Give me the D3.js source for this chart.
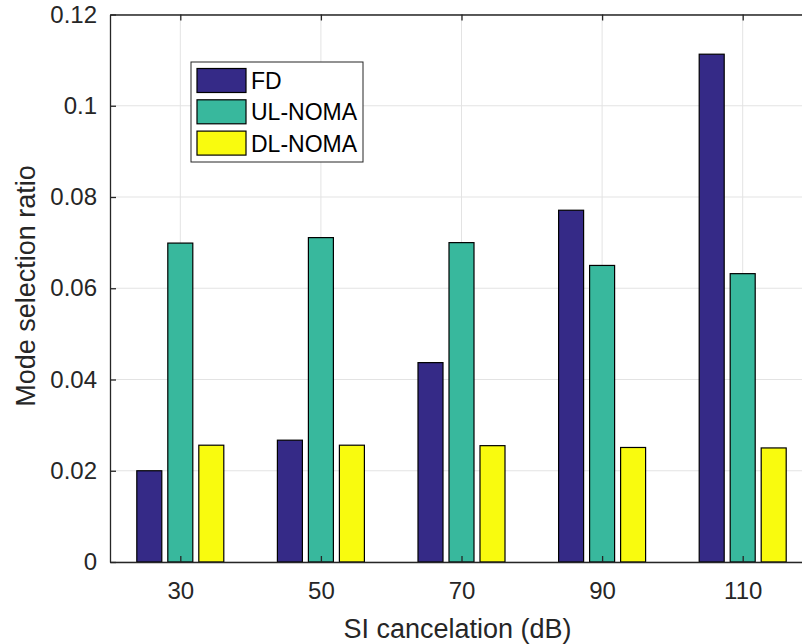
<!DOCTYPE html>
<html><head><meta charset="utf-8">
<script src="https://cdn.jsdelivr.net/npm/d3@7"></script>
<style>body{margin:0;background:#fff;}svg{display:block;}</style>
</head><body>
<script>
const categories = [30, 50, 70, 90, 110];
const seriesNames = ["FD", "UL-NOMA", "DL-NOMA"];
const fdValues = [0.0200, 0.0267, 0.0437, 0.0771, 0.1113];
const ulValues = [0.0699, 0.0711, 0.0700, 0.0650, 0.0632];
const dlValues = [0.0256, 0.0256, 0.0255, 0.0251, 0.0250];
const seriesColors = ["#352a87", "#38b89d", "#f9fb0e"];
const yTicks = [0, 0.02, 0.04, 0.06, 0.08, 0.1, 0.12];
const yTickLabels = ["0", "0.02", "0.04", "0.06", "0.08", "0.1", "0.12"];

const W = 802, H = 644;
const L = 110, T = 14.5, B = 562;
const FONT = "'Liberation Sans', Arial, Helvetica, sans-serif";
const svg = d3.select("body").append("svg").attr("width", W).attr("height", H)
  .style("font-family", FONT);

const x = d3.scaleLinear().domain([20, 120]).range([L, L + 703]);
const y = d3.scaleLinear().domain([0, 0.12]).range([B, T]);
const R = x(120);
const axisColor = "#262626";

// grid
const g = svg.append("g");
g.selectAll("line.gy").data(yTicks).join("line")
  .attr("x1", L).attr("x2", R).attr("y1", d => y(d)).attr("y2", d => y(d))
  .attr("stroke", "#e3e3e3").attr("stroke-width", 1);
g.selectAll("line.gx").data(categories).join("line")
  .attr("x1", d => x(d)).attr("x2", d => x(d)).attr("y1", T).attr("y2", B)
  .attr("stroke", "#e3e3e3").attr("stroke-width", 1);

// bars
const series = [fdValues, ulValues, dlValues];
const barW = 25, off = 31;
series.forEach((vals, si) => {
  svg.append("g").selectAll("rect").data(vals).join("rect")
    .attr("x", (d, i) => x(categories[i]) + (si - 1) * off - barW / 2)
    .attr("width", barW)
    .attr("y", d => y(d))
    .attr("height", d => B - y(d))
    .attr("fill", seriesColors[si])
    .attr("stroke", "#000").attr("stroke-width", 1.2);
});

// axes
const yAxis = d3.axisLeft(y).tickValues(yTicks).tickFormat((d, i) => yTickLabels[i])
  .tickSizeInner(-6).tickSizeOuter(0).tickPadding(13);
const ya = svg.append("g").attr("transform", `translate(${L},0)`).call(yAxis);
const xAxis = d3.axisBottom(x).tickValues(categories).tickFormat(d3.format("d"))
  .tickSizeInner(-6).tickSizeOuter(0).tickPadding(20);
const xa = svg.append("g").attr("transform", `translate(0,${B})`).call(xAxis);
const xt = d3.axisTop(x).tickValues(categories).tickFormat("").tickSizeInner(-6).tickSizeOuter(0);
const xta = svg.append("g").attr("transform", `translate(0,${T})`).call(xt);
[ya, xa, xta].forEach(a => {
  a.select(".domain").attr("stroke", axisColor).attr("stroke-width", 1.3);
  a.selectAll(".tick line").attr("stroke", axisColor).attr("stroke-width", 1.3);
  a.selectAll(".tick text").attr("fill", axisColor).style("font-size", "24px")
    .style("font-family", FONT);
});

// labels
svg.append("text").attr("x", 457.5).attr("y", 638).attr("text-anchor", "middle")
  .attr("fill", axisColor).style("font-size", "27px").text("SI cancelation (dB)");
svg.append("text").attr("transform", `translate(35,286) rotate(-90)`)
  .attr("text-anchor", "middle").attr("fill", axisColor).style("font-size", "27px")
  .text("Mode selection ratio");

// legend
const lg = svg.append("g");
lg.append("rect").attr("x", 191).attr("y", 62).attr("width", 172).attr("height", 100)
  .attr("fill", "#fff").attr("stroke", axisColor).attr("stroke-width", 1);
seriesNames.forEach((n, i) => {
  const yy = 68.5 + i * 31.3;
  lg.append("rect").attr("x", 197).attr("y", yy).attr("width", 49).attr("height", 24)
    .attr("fill", seriesColors[i]).attr("stroke", "#000").attr("stroke-width", 1.2);
  lg.append("text").attr("x", 251).attr("y", yy + 20.5).attr("fill", "#000")
    .style("font-size", "23px").text(n);
});
</script>
</body></html>
